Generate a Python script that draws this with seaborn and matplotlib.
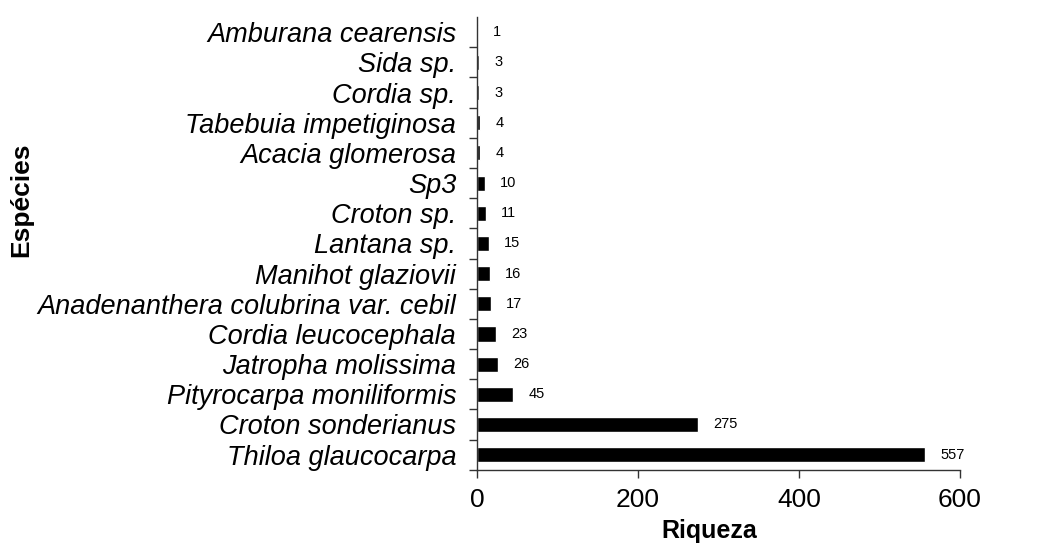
import matplotlib
matplotlib.use("Agg")
import matplotlib.pyplot as plt
import numpy as np
import pandas as pd
import seaborn as sns

# species (top to bottom) and richness values
especies = ["Amburana cearensis", "Sida sp.", "Cordia sp.", "Tabebuia impetiginosa",
            "Acacia glomerosa", "Sp3", "Croton sp.", "Lantana sp.", "Manihot glaziovii",
            "Anadenanthera colubrina var. cebil", "Cordia leucocephala", "Jatropha molissima",
            "Pityrocarpa moniliformis", "Croton sonderianus", "Thiloa glaucocarpa"]
riqueza = [1, 3, 3, 4, 4, 10, 11, 15, 16, 17, 23, 26, 45, 275, 557]
xticks = [0, 200, 400, 600]

df = pd.DataFrame({"Espécies": especies, "Riqueza": riqueza})

sns.set_style("white")
plt.rcParams['font.family'] = ['Liberation Sans', 'DejaVu Sans']
plt.rcParams['text.color'] = 'black'
plt.rcParams['axes.labelcolor'] = 'black'
plt.rcParams['xtick.color'] = 'black'
plt.rcParams['ytick.color'] = 'black'

fig = plt.figure(figsize=(10.47, 5.52), dpi=100)
ax = fig.add_axes([0.4556, 0.149, 0.4613, 0.820])

sns.barplot(data=df, x="Riqueza", y="Espécies", orient="h", color="black",
            width=0.5, ax=ax, saturation=1, order=especies)

# value labels
for i, v in enumerate(riqueza):
    ax.annotate(str(v), xy=(v, i), xytext=(11, 0), textcoords="offset points",
                va="center", ha="left", fontsize=10.5, color="black")

ax.set_xlim(0, 600)
ax.set_ylim(14.5, -0.5)
ax.set_xticks(xticks)
ax.set_xticklabels([str(t) for t in xticks], fontsize=19)
ax.tick_params(axis="x", direction="out", length=6, width=1, color="#333333", pad=7,
               bottom=True, labelcolor="black")

ax.set_yticks(range(len(especies)))
ax.set_yticklabels(especies, fontsize=19.5, style="italic")
ax.tick_params(axis="y", which="major", length=0, pad=15, labelcolor="black")
ax.set_yticks(np.arange(0.5, len(especies), 1.0), minor=True)
ax.tick_params(axis="y", which="minor", direction="out", length=6, width=1,
               color="#333333", left=True)

for s in ["top", "right"]:
    ax.spines[s].set_visible(False)
for s in ["left", "bottom"]:
    ax.spines[s].set_color("#333333")
    ax.spines[s].set_linewidth(1)

ax.set_xlabel("Riqueza", fontsize=18, fontweight="bold", color="black")
ax.set_ylabel("Espécies", fontsize=19, fontweight="bold", color="black")
ax.xaxis.set_label_coords(0.48, -0.108)
ax.yaxis.set_label_coords(-0.919, 0.596)
ax.grid(False)

fig.savefig("out.png", dpi=100)
